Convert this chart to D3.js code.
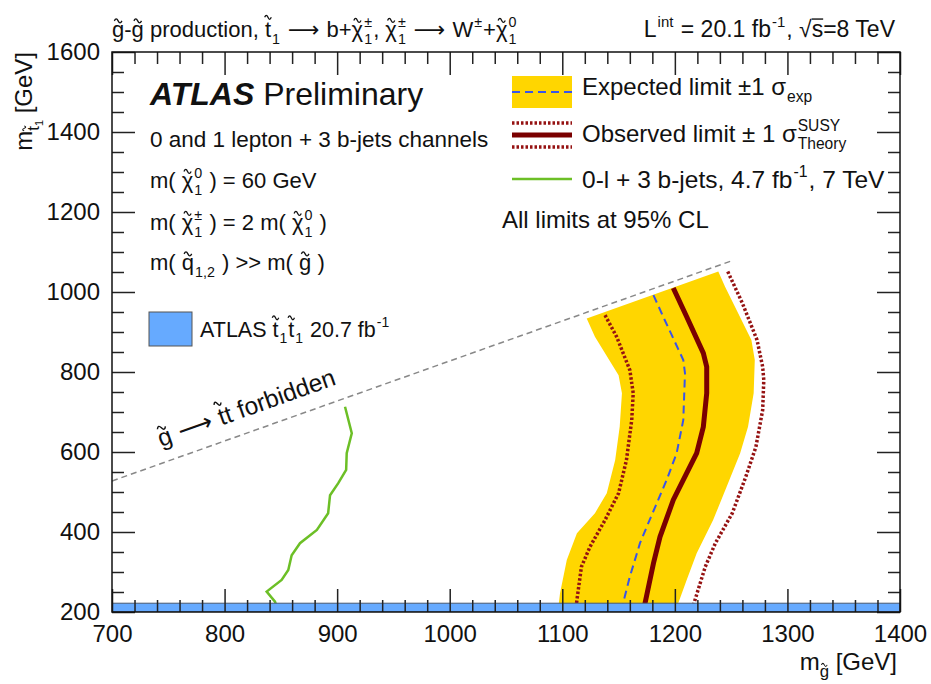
<!DOCTYPE html>
<html>
<head>
<meta charset="utf-8">
<script src="https://cdn.jsdelivr.net/npm/d3@7"></script>
<style>
  body { margin: 0; background: #fff; }
  text { font-family: 'Liberation Sans', Arial, Helvetica, sans-serif; fill: #111; }
</style>
</head>
<body>
<svg id="chart" width="931" height="684"></svg>
<script>
// gluino mass / stop mass pairs [GeV]
const expBandLeft = [[1096, 200], [1098, 247], [1104, 330], [1113, 397], [1129, 447], [1139.5, 497],
    [1147, 580], [1151, 663], [1153, 747], [1150, 792], [1129, 888], [1121.7, 934]];
const expBandRight = [[1238.6, 1051], [1244.6, 1013], [1268, 880], [1271, 830], [1270, 747], [1265, 663],
    [1258, 597], [1246, 513], [1234, 430], [1219.4, 347], [1210.5, 280], [1203, 222], [1201, 200]];
const expected = [[1181, 992], [1191, 930], [1207.5, 830], [1209, 797], [1207.5, 680], [1201.6, 597],
    [1192.7, 530], [1176.4, 422], [1169, 372], [1160, 288], [1154, 222], [1153, 200]];
const observed = [[1198.6, 1010], [1210.5, 938], [1225.3, 847], [1228.3, 813], [1228.3, 747], [1225.3, 663],
    [1219.4, 597], [1210.5, 547], [1198.6, 480], [1186.8, 388], [1181, 322], [1173.5, 222], [1172, 200]];
const obsMinus = [[1138, 942], [1148.3, 888], [1160, 805], [1163, 747], [1161.7, 680], [1157, 580],
    [1150, 497], [1138, 430], [1124.6, 363], [1117, 313], [1113, 230], [1112, 205]];
const obsPlus = [[1247, 1051], [1260, 972], [1273, 880], [1278, 813], [1279, 780], [1278, 705],
    [1272, 613], [1263, 538], [1251, 447], [1236, 372], [1227, 313], [1217, 222], [1216, 205]];
const green7TeV = [[907, 713], [913, 647], [908.5, 597], [908, 555], [901, 522], [893.7, 492], [892, 447],
    [882, 405], [867, 372], [859.6, 342], [856.6, 305], [850.7, 280], [837.4, 251], [844.8, 226], [846.3, 213]];
const forbidden = [[700, 527.5], [1252, 1079.5]];
const stopStrip = [200, 222];   // ATLAS stop-pair exclusion in stop mass

const xTicks = [700, 800, 900, 1000, 1100, 1200, 1300, 1400];
const yTicks = [200, 400, 600, 800, 1000, 1200, 1400, 1600];

const svg = d3.select('#chart');
const pLeft = 112, pRight = 900, pTop = 52, pBottom = 612;

const x = d3.scaleLinear().domain([700, 1400]).range([pLeft, pRight]);
const y = d3.scaleLinear().domain([200, 1600]).range([pBottom, pTop]);

// rich text: parts are strings or {t, s, dy, ff, tilde, tildeY, over, sup, sub, w, i}
function rich(parent, px, py, parts, fs, anchor, rot) {
    const g = parent.append('g')
        .attr('transform', `translate(${px},${py})${rot ? ` rotate(${rot})` : ''}`);
    const inner = g.append('g');
    let cx = 0;
    parts.forEach((p) => {
        if (typeof p === 'string') p = { t: p };
        const f = fs * (p.s || 1);
        const by = (p.dy || 0) * fs;
        if (p.t !== undefined) {
            const t = inner.append('text')
                .attr('x', cx).attr('y', by)
                .attr('font-size', f)
                .attr('font-weight', p.w || null)
                .attr('font-style', p.i ? 'italic' : null)
                .style('white-space', 'pre')
                .text(p.t);
            if (p.ff) t.style('font-family', p.ff);
            const w = t.node().getComputedTextLength();
            if (p.tilde) {
                const ty = by - f * (p.tildeY || 0.76);
                const tw = Math.max(w * 0.62, f * 0.3);
                const x0 = cx + (w - tw) / 2;
                const h = f * 0.09;
                inner.append('path')
                    .attr('d', `M${x0},${ty + h * 0.3} q${tw / 4},${-h * 2} ${tw / 2},0 t${tw / 2},0`)
                    .attr('fill', 'none').attr('stroke', '#111').attr('stroke-width', f * 0.06);
            }
            if (p.over) {
                inner.append('line')
                    .attr('x1', cx).attr('x2', cx + w)
                    .attr('y1', by - f * 0.78).attr('y2', by - f * 0.78)
                    .attr('stroke', '#111').attr('stroke-width', f * 0.06);
            }
            cx += w;
        }
        if (p.sup !== undefined || p.sub !== undefined) {
            let w = 0;
            const sf = f * 0.65;
            if (p.sup !== undefined) {
                const t = inner.append('text').attr('x', cx + 1).attr('y', by - f * 0.45)
                    .attr('font-size', sf).style('white-space', 'pre').text(p.sup);
                w = Math.max(w, t.node().getComputedTextLength());
            }
            if (p.sub !== undefined) {
                const t = inner.append('text').attr('x', cx + 1).attr('y', by + f * 0.3)
                    .attr('font-size', sf).style('white-space', 'pre').text(p.sub);
                w = Math.max(w, t.node().getComputedTextLength());
            }
            cx += w + 2;
        }
    });
    if (anchor === 'end') inner.attr('transform', `translate(${-cx},0)`);
    if (anchor === 'middle') inner.attr('transform', `translate(${-cx / 2},0)`);
    return g;
}

svg.append('defs').append('clipPath').attr('id', 'plotClip')
    .append('rect').attr('x', pLeft).attr('y', pTop)
    .attr('width', pRight - pLeft).attr('height', pBottom - pTop);

const plot = svg.append('g').attr('clip-path', 'url(#plotClip)');
const line = d3.line().x(d => x(d[0])).y(d => y(d[1]));

// expected +-1 sigma band
plot.append('path')
    .attr('d', line(expBandLeft.concat(expBandRight)) + 'Z')
    .attr('fill', '#ffd600');

plot.append('path').attr('d', line(expected))
    .attr('fill', 'none').attr('stroke', '#3a55e8').attr('stroke-width', 2)
    .attr('stroke-dasharray', '8,5');

[obsMinus, obsPlus].forEach((d) => {
    plot.append('path').attr('d', line(d))
        .attr('fill', 'none').attr('stroke', '#951212').attr('stroke-width', 3.5)
        .attr('stroke-dasharray', '2.5,2');
});

plot.append('path').attr('d', line(observed))
    .attr('fill', 'none').attr('stroke', '#7a0000').attr('stroke-width', 5);

plot.append('path').attr('d', line(green7TeV))
    .attr('fill', 'none').attr('stroke', '#6cbf26').attr('stroke-width', 2.5);

plot.append('path').attr('d', line(forbidden))
    .attr('fill', 'none').attr('stroke', '#888').attr('stroke-width', 1.5)
    .attr('stroke-dasharray', '6,4');

plot.append('rect')
    .attr('x', x(700)).attr('y', y(stopStrip[1]))
    .attr('width', x(1400) - x(700)).attr('height', y(stopStrip[0]) - y(stopStrip[1]))
    .attr('fill', '#66aaff').attr('stroke', '#4a5a70').attr('stroke-width', 1);

// axes: ROOT style ticks on all four sides, pointing inwards
const xMinor = d3.range(700, 1401, 20).filter(v => !xTicks.includes(v));
const yMinor = d3.range(200, 1601, 50).filter(v => !yTicks.includes(v));

function styleAxis(g) {
    g.select('.domain').remove();
    g.selectAll('line').attr('stroke', '#222').attr('stroke-width', 1.5);
    g.selectAll('text').attr('font-size', 24).attr('fill', '#111')
        .attr('font-family', "'Liberation Sans', Arial, sans-serif");
}

svg.append('g').attr('transform', `translate(0,${pBottom})`)
    .call(d3.axisBottom(x).tickValues(xTicks).tickSize(-23).tickPadding(13).tickFormat(d3.format('d')))
    .call(styleAxis);
svg.append('g').attr('transform', `translate(0,${pBottom})`)
    .call(d3.axisBottom(x).tickValues(xMinor).tickSize(-12).tickFormat(''))
    .call(styleAxis);
svg.append('g').attr('transform', `translate(0,${pTop})`)
    .call(d3.axisTop(x).tickValues(xTicks).tickSize(-23).tickFormat(''))
    .call(styleAxis);
svg.append('g').attr('transform', `translate(0,${pTop})`)
    .call(d3.axisTop(x).tickValues(xMinor).tickSize(-12).tickFormat(''))
    .call(styleAxis);
svg.append('g').attr('transform', `translate(${pLeft},0)`)
    .call(d3.axisLeft(y).tickValues(yTicks).tickSize(-23).tickPadding(12).tickFormat(d3.format('d')))
    .call(styleAxis);
svg.append('g').attr('transform', `translate(${pLeft},0)`)
    .call(d3.axisLeft(y).tickValues(yMinor).tickSize(-12).tickFormat(''))
    .call(styleAxis);
svg.append('g').attr('transform', `translate(${pRight},0)`)
    .call(d3.axisRight(y).tickValues(yTicks).tickSize(-23).tickFormat(''))
    .call(styleAxis);
svg.append('g').attr('transform', `translate(${pRight},0)`)
    .call(d3.axisRight(y).tickValues(yMinor).tickSize(-12).tickFormat(''))
    .call(styleAxis);

svg.append('rect')
    .attr('x', pLeft).attr('y', pTop).attr('width', pRight - pLeft).attr('height', pBottom - pTop)
    .attr('fill', 'none').attr('stroke', '#111').attr('stroke-width', 1.5);

// axis titles
rich(svg, 897, 670, ['m', { t: 'g', s: 0.7, dy: 0.3, tilde: true }, ' [GeV]'], 24, 'end');
rich(svg, 32, 52, ['m', { t: 't', s: 0.7, dy: 0.3, tilde: true, tildeY: 0.92 },
    { t: '1', s: 0.45, dy: 0.45 }, ' [GeV]'], 24, 'end', -90);

// header
const chi = (sup, sub) => ({ t: 'χ', tilde: true, tildeY: 0.78, sup, sub });
const arrow = { t: ' ⟶ ', ff: "'DejaVu Sans', sans-serif", s: 1.0 };
rich(svg, 112, 37, [{ t: 'g', tilde: true }, '-', { t: 'g', tilde: true }, ' production, ',
    { t: 't', tilde: true, tildeY: 0.92, sub: '1' }, arrow, 'b+', chi('±', '1'), ', ', chi('±', '1'),
    arrow, 'W', { sup: '±' }, '+', chi('0', '1')], 22);
rich(svg, 895, 37, ['L', { sup: 'int' }, ' = 20.1 fb', { sup: '-1' }, ', √', { t: 's', over: true },
    '=8 TeV'], 23, 'end');

// left info block
rich(svg, 150, 105, [{ t: 'ATLAS', w: 'bold', i: true }, ' Preliminary'], 32);
rich(svg, 150, 147, ['0 and 1 lepton + 3 b-jets channels'], 22.5);
rich(svg, 150, 188, ['m( ', chi('0', '1'), ' ) = 60 GeV'], 22);
rich(svg, 150, 230, ['m( ', chi('±', '1'), ' ) = 2 m( ', chi('0', '1'), ' )'], 22);
rich(svg, 150, 270, ['m( ', { t: 'q', tilde: true, sub: '1,2' }, ' ) >> m( ', { t: 'g', tilde: true }, ' )'], 22);

svg.append('rect').attr('x', 149).attr('y', 312).attr('width', 43).attr('height', 34)
    .attr('fill', '#66aaff').attr('stroke', '#555').attr('stroke-width', 1);
rich(svg, 200, 337, ['ATLAS ', { t: 't', tilde: true, tildeY: 0.92, sub: '1' },
    { t: 't', tilde: true, tildeY: 0.92, sub: '1' }, ' 20.7 fb', { sup: '-1' }], 21.5);

// right legend
const lx0 = 512, lx1 = 572;
svg.append('rect').attr('x', lx0).attr('y', 76).attr('width', lx1 - lx0).attr('height', 32)
    .attr('fill', '#ffd600');
svg.append('line').attr('x1', lx0).attr('x2', lx1).attr('y1', 92).attr('y2', 92)
    .attr('stroke', '#3a55e8').attr('stroke-width', 2).attr('stroke-dasharray', '8,5');
[123, 147].forEach((ly) => {
    svg.append('line').attr('x1', lx0).attr('x2', lx1).attr('y1', ly).attr('y2', ly)
        .attr('stroke', '#951212').attr('stroke-width', 3.5).attr('stroke-dasharray', '2.5,2');
});
svg.append('line').attr('x1', lx0).attr('x2', lx1).attr('y1', 135).attr('y2', 135)
    .attr('stroke', '#7a0000').attr('stroke-width', 5);
svg.append('line').attr('x1', lx0).attr('x2', lx1).attr('y1', 179).attr('y2', 179)
    .attr('stroke', '#6cbf26').attr('stroke-width', 2.5);

rich(svg, 582, 95, ['Expected limit ±1 σ', { sub: 'exp' }], 24);
rich(svg, 582, 142, ['Observed limit ± 1 σ', { sup: 'SUSY', sub: 'Theory' }], 24);
rich(svg, 582, 188, ['0-l + 3 b-jets, 4.7 fb', { sup: '-1' }, ', 7 TeV'], 24.5);
rich(svg, 502, 228, ['All limits at 95% CL'], 24);

// forbidden label along the kinematic line
rich(svg, 161, 447, [{ t: 'g', tilde: true }, { t: ' ⟶ ', ff: "'DejaVu Sans', sans-serif" },
    { t: 't', tilde: true, tildeY: 0.92 }, 't forbidden'], 24.5, 'start', -19.6);
</script>
</body>
</html>
